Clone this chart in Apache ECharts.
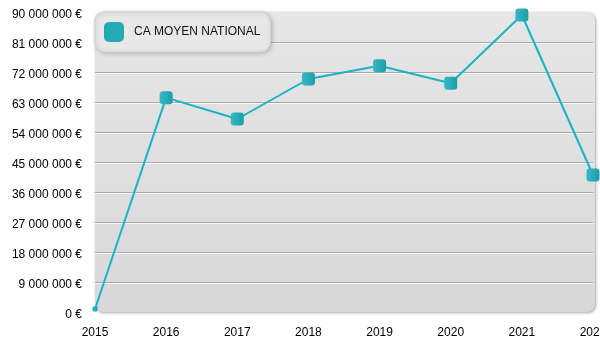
<!DOCTYPE html>
<html>
<head>
<meta charset="utf-8">
<script src="https://cdn.jsdelivr.net/npm/echarts@6/dist/echarts.min.js"></script>
<style>
  html, body { margin: 0; padding: 0; background: #ffffff; }
  #chart { width: 600px; height: 350px; }
</style>
</head>
<body>
<div id="chart"></div>
<script>
// Chiffre d'affaires moyen national par année
const years = ['2015', '2016', '2017', '2018', '2019', '2020', '2021', '2022'];
const caMoyen = [900000, 64300000, 57900000, 69900000, 73900000, 68600000, 89100000, 41100000];
const seriesName = 'CA MOYEN NATIONAL';
const yMax = 90000000;
const yStep = 9000000;

// Plot area
const GRID = { left: 95, right: 7, top: 12, bottom: 38 };
const W = 600, H = 350;

function euro(v) {
  return '{v|' + String(Math.round(v)).replace(/\B(?=(\d{3})+(?!\d))/g, ' ') + ' €}';
}

const teal = new echarts.graphic.LinearGradient(0, 0, 1, 0, [
  { offset: 0, color: '#35b9c3' },
  { offset: 1, color: '#1c9ea9' }
]);

const chart = echarts.init(document.getElementById('chart'), null, { renderer: 'canvas' });
chart.setOption({
  animation: false,
  textStyle: { fontFamily: 'Liberation Sans, Arial, sans-serif' },
  graphic: [{
    type: 'rect',
    z: -10,
    silent: true,
    shape: { x: GRID.left, y: GRID.top, width: W - GRID.left - 5, height: H - GRID.top - GRID.bottom, r: 8 },
    style: {
      fill: new echarts.graphic.LinearGradient(0, 0, 0, 1, [
        { offset: 0, color: '#e6e6e6' },
        { offset: 1, color: '#d8d8d8' }
      ]),
      shadowColor: 'rgba(0,0,0,0.35)',
      shadowBlur: 3,
      shadowOffsetX: 1,
      shadowOffsetY: 1
    }
  }],
  legend: {
    left: GRID.left,
    top: GRID.top,
    padding: [10, 10, 10, 9],
    itemWidth: 20,
    itemHeight: 20,
    icon: 'roundRect',
    backgroundColor: '#e8e8e8',
    borderColor: '#d4d4d4',
    borderWidth: 1,
    borderRadius: 10,
    shadowColor: 'rgba(0,0,0,0.22)',
    shadowBlur: 4,
    shadowOffsetX: 1,
    shadowOffsetY: 1,
    textStyle: { color: '#111', fontSize: 12, padding: [0, 0, 0, 5] },
    data: [{ name: seriesName, itemStyle: { color: '#22aab5' } }]
  },
  grid: {
    left: GRID.left, right: GRID.right, top: GRID.top, bottom: GRID.bottom,
    containLabel: false,
    outerBoundsMode: 'none'
  },
  xAxis: {
    type: 'category',
    data: years,
    boundaryGap: false,
    axisLine: { show: false },
    axisTick: { show: false },
    axisLabel: { color: '#000', fontSize: 12, margin: 15, hideOverlap: false },
    splitLine: { show: false }
  },
  yAxis: {
    type: 'value',
    min: 0,
    max: yMax,
    interval: yStep,
    axisLine: { show: false },
    axisTick: { show: false },
    axisLabel: {
      color: '#000', fontSize: 12, margin: 13, formatter: euro,
      rich: { v: { color: '#000', fontSize: 12, padding: [5, 0, 0, 0] } }
    },
    splitLine: {
      show: true,
      showMinLine: false,
      showMaxLine: false,
      lineStyle: { color: '#a9a9a9', width: 1, shadowColor: '#f6f6f6', shadowOffsetY: 1, shadowBlur: 0 }
    }
  },
  series: [{
    name: seriesName,
    type: 'line',
    data: caMoyen,
    clip: false,
    symbol: 'roundRect',
    // the first point sits in the plot corner and is drawn small
    symbolSize: function (val, params) { return params.dataIndex === 0 ? 5 : 13; },
    showAllSymbol: true,
    lineStyle: { color: '#16b4c6', width: 2 },
    itemStyle: { color: teal },
    z: 5
  }]
});
</script>
</body>
</html>
